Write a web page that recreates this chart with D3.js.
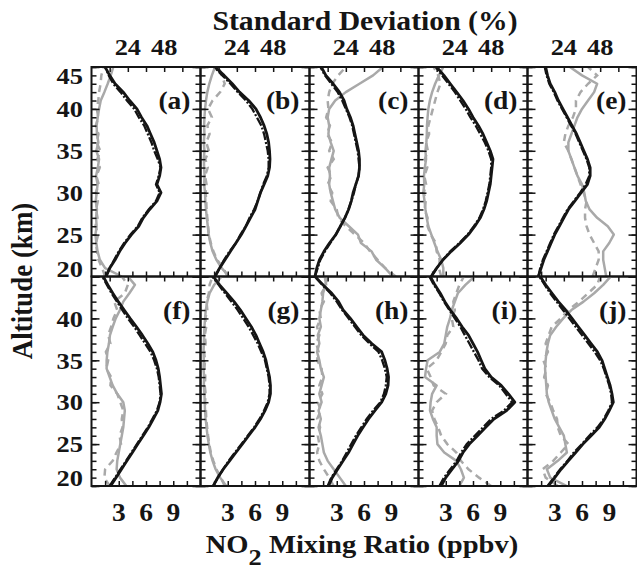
<!DOCTYPE html>
<html>
<head>
<meta charset="utf-8">
<script src="https://cdn.jsdelivr.net/npm/d3@7"></script>
<style>
  html, body { margin: 0; padding: 0; background: #fff; }
  svg { display: block; }
</style>
</head>
<body>
<svg id="chart" width="637" height="569"></svg>
<script>
// ---- data: profiles sampled every 1 km from 20 to 45 km ----
const panelLetters = ["a", "b", "c", "d", "e", "f", "g", "h", "i", "j"];
const altitudeKm = d3.range(20, 46);

// NO2 mixing ratio (ppbv), solid black profiles, one row per panel
const no2Solid = [
  [1.6,2.0,2.6,3.1,3.7,4.4,5.2,5.7,6.4,7.2,7.65,7.2,7.5,7.65,7.5,7.2,6.9,6.5,6.1,5.5,5.0,4.2,3.5,2.6,2.0,1.5],
  [1.6,2.1,2.7,3.3,3.9,4.5,5.0,5.5,6.0,6.3,6.6,7.0,7.4,7.6,7.65,7.6,7.5,7.3,7.0,6.6,6.1,5.3,4.3,3.5,2.6,1.6],
  [0.6,0.8,1.1,1.6,2.2,2.9,3.4,3.9,4.3,4.6,4.8,5.1,5.4,5.5,5.5,5.4,5.2,5.0,4.8,4.5,4.1,3.8,3.3,2.6,1.8,1.3],
  [1.4,2.0,2.7,3.6,4.6,5.5,6.2,6.8,7.2,7.5,7.7,7.9,8.0,8.1,8.2,7.9,7.5,7.1,6.6,6.0,5.5,4.9,4.2,3.5,2.8,2.0],
  [1.2,1.5,1.8,2.2,2.6,3.0,3.5,4.0,4.5,5.2,5.9,6.6,6.9,6.9,6.6,6.2,5.8,5.4,4.9,4.4,3.9,3.4,3.0,2.5,2.2,2.0],
  [2.1,2.7,3.3,3.9,4.5,5.1,5.7,6.3,6.8,7.3,7.55,7.7,7.6,7.5,7.35,7.1,6.75,6.2,5.6,4.95,4.25,3.6,2.95,2.35,1.8,1.3],
  [1.4,1.9,2.5,3.2,3.9,4.6,5.3,6.0,6.6,7.1,7.5,7.7,7.7,7.6,7.4,7.2,6.9,6.5,6.1,5.6,5.0,4.4,3.7,2.9,2.1,1.4],
  [2.1,2.5,3.1,3.7,4.3,4.8,5.3,5.9,6.5,7.2,7.95,8.4,8.65,8.7,8.55,8.3,7.95,6.85,5.9,5.2,4.5,3.7,3.2,2.45,1.5,0.6],
  [2.5,3.0,3.7,4.4,4.9,5.6,6.5,7.4,8.3,9.7,10.6,9.9,9.1,8.0,7.3,6.9,6.5,6.0,5.5,4.8,4.2,3.5,2.9,2.4,1.8,1.3],
  [2.3,3.0,3.7,4.5,5.3,6.1,7.0,7.9,8.5,9.0,9.45,9.3,9.1,8.8,8.5,8.2,7.7,7.0,6.3,5.6,4.9,4.2,3.4,2.7,2.0,1.4]
];

// NO2 mixing ratio (ppbv), dash-dot black profiles
const no2DashDot = [
  [1.6,2.0,2.5,3.0,3.6,4.3,5.1,5.6,6.3,7.1,7.5,7.1,7.4,7.6,7.3,6.9,6.6,6.2,5.8,5.2,4.7,3.9,3.2,2.4,1.9,1.5],
  [1.6,2.1,2.6,3.2,3.9,4.4,5.0,5.4,5.9,6.3,6.6,6.9,7.3,7.5,7.5,7.4,7.2,7.0,6.7,6.2,5.7,5.0,4.1,3.3,2.4,1.5],
  [0.6,0.9,1.2,1.7,2.3,2.9,3.4,3.9,4.3,4.6,4.9,5.1,5.4,5.5,5.4,5.3,5.1,4.9,4.7,4.4,4.0,3.6,3.1,2.4,1.7,1.2],
  [1.4,2.0,2.7,3.5,4.5,5.4,6.1,6.7,7.1,7.4,7.6,7.8,7.9,8.0,8.0,7.7,7.3,6.8,6.3,5.7,5.2,4.6,4.0,3.3,2.6,1.9],
  [1.2,1.4,1.7,2.1,2.5,2.9,3.4,3.9,4.4,5.1,5.8,6.4,6.8,6.8,6.5,6.1,5.7,5.3,4.8,4.3,3.8,3.3,2.9,2.4,2.1,1.9],
  [2.0,2.6,3.2,3.8,4.4,5.0,5.6,6.2,6.7,7.2,7.5,7.6,7.5,7.4,7.2,6.9,6.5,5.9,5.3,4.7,4.0,3.4,2.8,2.2,1.7,1.2],
  [1.4,1.9,2.5,3.1,3.8,4.5,5.2,5.9,6.5,7.0,7.4,7.6,7.6,7.5,7.3,7.1,6.7,6.3,5.8,5.3,4.7,4.1,3.4,2.7,2.0,1.3],
  [2.0,2.4,3.0,3.6,4.1,4.6,5.1,5.7,6.3,7.0,7.8,8.2,8.4,8.5,8.3,8.0,7.6,6.6,5.7,5.0,4.3,3.6,3.0,2.3,1.4,0.6],
  [2.3,2.8,3.5,4.2,4.7,5.3,6.2,7.1,8.0,9.4,10.3,9.6,8.9,7.8,7.0,6.6,6.1,5.6,5.1,4.6,4.0,3.4,2.8,2.3,1.7,1.2],
  [2.2,2.9,3.6,4.4,5.1,6.0,6.8,7.7,8.4,8.9,9.3,9.2,9.0,8.7,8.4,8.0,7.4,6.7,6.0,5.3,4.6,3.9,3.2,2.5,1.9,1.3]
];

// standard deviation (%), solid grey profiles
const sdSolid = [
  [20,9,5.5,4.0,3.2,2.6,3.4,3.0,3.6,2.8,3.4,4.0,3.0,4.2,5.0,3.2,4.5,3.6,3.4,4.1,5.0,6.1,8.5,10.7,12.7,14.4],
  [19,14,10.5,8,6.5,5.4,4.8,4.2,3.6,3.2,3.0,2.4,2.7,2.4,2.2,2.6,2.2,2.6,2.4,2.6,3.0,3.6,4.5,5.8,7.5,9.6],
  [55,50,44,41,34,32,26,20,17,15.5,14,13,13.5,13,14.5,16,14,12.5,13,12,13,17,24,33,42,48.5],
  [16.4,16.4,15,12.5,10.5,8.5,6.5,5.4,4.6,4.0,3.2,3.8,3.6,4.2,5.0,4.6,5.2,5.5,5.6,6,6.5,7.5,9,11,13.5,16.4],
  [52,51,50,50,54,57,53,46,41,38.5,37.5,36,33,31,29,27,27,29,31,33,36,40,44,46,36,28],
  [23,18.8,16.6,17,18,19,20,21,21.5,22,21,17,14,12,10,10,10.5,11.5,12.2,14,16,18.8,21,25,28.7,24],
  [17,13,10,8,6.5,5.5,4.6,4.0,3.4,3.0,2.8,2.6,2.2,2.4,2.0,2.2,2.0,2.2,2.4,2.6,3.0,3.5,4.5,6,9,14],
  [24,20,16,12,9.5,8.5,7.5,6,7.5,6,8,6.5,8,9.5,7.5,6.5,5,6.5,5.5,7.5,6.5,7.5,8.5,9,10.5,12],
  [27,30,28,25,17,12.5,12,12,9.5,7.6,8,9,12,4.3,5,6,14,17,18,19,20.8,22,24,26,31,37],
  [26,15,12.8,20,26,25,24,21,18,16,14,12.8,12.4,12,11.6,12,12.5,13.5,15,19,23.6,29,37,44,50,55]
];

// standard deviation (%), dashed grey profiles
const sdDashed = [
  [9.0,7.0,4.6,3.6,3.0,4.4,2.6,4.0,3.0,4.2,2.8,4.8,3.2,5.5,3.8,5.8,3.4,4.6,2.8,4.5,3.5,4.5,5,6,6.5,8],
  [18,15,11,8.5,6.8,5.6,5.0,4.5,4.0,3.8,3.4,4.0,3.0,4.8,3.2,5.5,3.8,6,4.5,7.5,5,8,13,16,14,12],
  [57,50,45,40,36,30,24,19,18,14,15,12,14.5,12,16,13,15,11.5,13.5,11,12.5,12,13,15,19,24],
  [15,13.5,14,12,11.5,8.0,6.0,6.0,4.0,4.8,3.5,5.0,3.8,5.8,4.2,6.2,5.0,7.0,6.5,8,9.5,11,12.5,14.5,13,10],
  [43,45,47,47,44,41,39,38,38,39,37,35,33,31,29,27,24,25,27,30,32,32,35,40,46,40],
  [12,8.5,9,14,16.5,19.5,18.5,20.5,20,21,19,17,12.5,13,9.8,11,9.5,12.5,11,13,14.5,17,15,22,24,20],
  [16,13.5,10.5,8.5,6.8,5.8,5.0,4.4,3.8,3.6,3.0,3.4,2.8,3.2,2.6,3.0,2.4,3.4,2.8,3.8,3.2,4.5,4,5.5,6,8],
  [16,13,9.5,6.5,5,6.5,5.5,7,5,7.5,5.5,8.5,6.5,8.5,8,5,6,4.5,6.5,5,7.5,6.5,9.5,8,11,10],
  [48,40,33,28,25,19,15,13,10.5,9,12,18,10,8,5.5,12,15,18,19,23,22,24,23,25,27,30],
  [20,12,10,17,22,27,22,20,19.5,17,15,12,13.5,11,12.5,10.5,13.5,12,14,16,22,27,34,40,46,48]
];

// axis tick values and labels
const altLabelsTopRow = [45, 40, 35, 30, 25, 20];
const altLabelsBottomRow = [40, 35, 30, 25, 20];
const altMinorTicks = d3.range(20, 46, 1);
const altMajorTicks = d3.range(20, 46, 5);
const no2Ticks = [1.5, 3, 4.5, 6, 7.5, 9, 10.5];
const no2TickLabels = [3, 6, 9];
const sdTicks = [12, 24, 36, 48, 60];
const sdTickLabels = [24, 48];

// ---- layout ----
const plotLeft = 91.5, plotTop = 67;
const panelW = 109, panelH = 209.5;
const nCols = 5;
const FONT = "'Liberation Serif','Times New Roman',Times,serif";
const STRETCH = 1.1;
const INK = "#151515";
const GREY = "#a9a9a9";

const svg = d3.select("#chart");

const yAlt = d3.scaleLinear().domain([20, 45]).range([panelH, 0]);
const xNo2 = d3.scaleLinear().domain([0, 12]).range([0, panelW]);
const xSd = d3.scaleLinear().domain([0, 72]).range([0, panelW]);

function label(parent, x, y, str, size, anchor) {
  return parent.append("text")
    .attr("transform", `translate(${x},${y}) scale(${STRETCH},1)`)
    .attr("text-anchor", anchor)
    .attr("fill", INK)
    .style("font-family", FONT)
    .style("font-weight", "bold")
    .style("font-size", size + "px")
    .text(str);
}

function styleAxis(g) {
  g.select(".domain").remove();
  g.selectAll(".tick text").remove();
  g.selectAll(".tick line").attr("stroke", INK).attr("stroke-width", 1.5);
}

const defs = svg.append("defs");

panelLetters.forEach((letter, i) => {
  const col = i % nCols, row = Math.floor(i / nCols);
  const ox = plotLeft + col * panelW, oy = plotTop + row * panelH;
  const g = svg.append("g").attr("transform", `translate(${ox},${oy})`);

  defs.append("clipPath").attr("id", "clip-" + letter)
    .append("rect").attr("width", panelW).attr("height", panelH);

  const lines = g.append("g").attr("clip-path", `url(#clip-${letter})`);

  const no2Line = vals => d3.line()
    .x((d, k) => xNo2(vals[k]))
    .y((d, k) => yAlt(altitudeKm[k]))(altitudeKm);
  const sdLine = vals => d3.line()
    .x((d, k) => xSd(vals[k]))
    .y((d, k) => yAlt(altitudeKm[k]))(altitudeKm);

  lines.append("path").attr("d", sdLine(sdDashed[i]))
    .attr("fill", "none").attr("stroke", GREY).attr("stroke-width", 2.5)
    .attr("stroke-dasharray", "7,5");
  lines.append("path").attr("d", sdLine(sdSolid[i]))
    .attr("fill", "none").attr("stroke", GREY).attr("stroke-width", 2.5)
    .attr("stroke-linejoin", "round");
  lines.append("path").attr("d", no2Line(no2DashDot[i]))
    .attr("fill", "none").attr("stroke", INK).attr("stroke-width", 2.3)
    .attr("stroke-dasharray", "9,2,2,2");
  lines.append("path").attr("d", no2Line(no2Solid[i]))
    .attr("fill", "none").attr("stroke", INK).attr("stroke-width", 2.8)
    .attr("stroke-linejoin", "round");

  // inward ticks on all four sides
  g.append("g").call(d3.axisRight(yAlt).tickValues(altMinorTicks).tickSize(5)).call(styleAxis);
  g.append("g").call(d3.axisRight(yAlt).tickValues(altMajorTicks).tickSize(8)).call(styleAxis);
  g.append("g").attr("transform", `translate(${panelW},0)`)
    .call(d3.axisLeft(yAlt).tickValues(altMinorTicks).tickSize(5)).call(styleAxis);
  g.append("g").attr("transform", `translate(${panelW},0)`)
    .call(d3.axisLeft(yAlt).tickValues(altMajorTicks).tickSize(8)).call(styleAxis);
  g.append("g").attr("transform", `translate(0,${panelH})`)
    .call(d3.axisTop(xNo2).tickValues(no2Ticks).tickSize(5)).call(styleAxis);
  g.append("g").call(d3.axisBottom(xSd).tickValues(sdTicks).tickSize(5)).call(styleAxis);

  g.append("rect").attr("width", panelW).attr("height", panelH)
    .attr("fill", "none").attr("stroke", INK).attr("stroke-width", 2);

  label(g, panelW - 10, 42, `(${letter})`, 25, "end");

  if (row === 1) {
    no2TickLabels.forEach(v => label(svg, ox + xNo2(v), 521, String(v), 25, "middle"));
  }
  if (row === 0) {
    sdTickLabels.forEach(v => label(svg, ox + xSd(v), 55, String(v), 24, "middle"));
  }
});

// altitude labels; edge labels are nudged inside the row
function altLabels(values, rowTop) {
  values.forEach(v => {
    let cy = rowTop + yAlt(v);
    if (v === 45) cy += 8.5;
    if (v === 20) cy -= 8;
    label(svg, 83, cy + 8.2, String(v), 24, "end");
  });
}
altLabels(altLabelsTopRow, plotTop);
altLabels(altLabelsBottomRow, plotTop + panelH);

// axis titles
label(svg, 365, 29.5, "Standard Deviation (%)", 27, "middle");

const xt = svg.append("text")
  .attr("transform", `translate(362,553) scale(${STRETCH},1)`)
  .attr("text-anchor", "middle")
  .attr("fill", INK)
  .style("font-family", FONT).style("font-weight", "bold").style("font-size", "26px");
xt.append("tspan").text("NO");
xt.append("tspan").attr("dy", 12).style("font-size", "24px").text("2");
xt.append("tspan").attr("dy", -12).text(" Mixing Ratio (ppbv)");

svg.append("text")
  .attr("transform", `translate(31.5,281) rotate(-90) scale(1,${STRETCH})`)
  .attr("text-anchor", "middle")
  .attr("fill", INK)
  .style("font-family", FONT).style("font-weight", "bold").style("font-size", "27px")
  .text("Altitude (km)");
</script>
</body>
</html>
